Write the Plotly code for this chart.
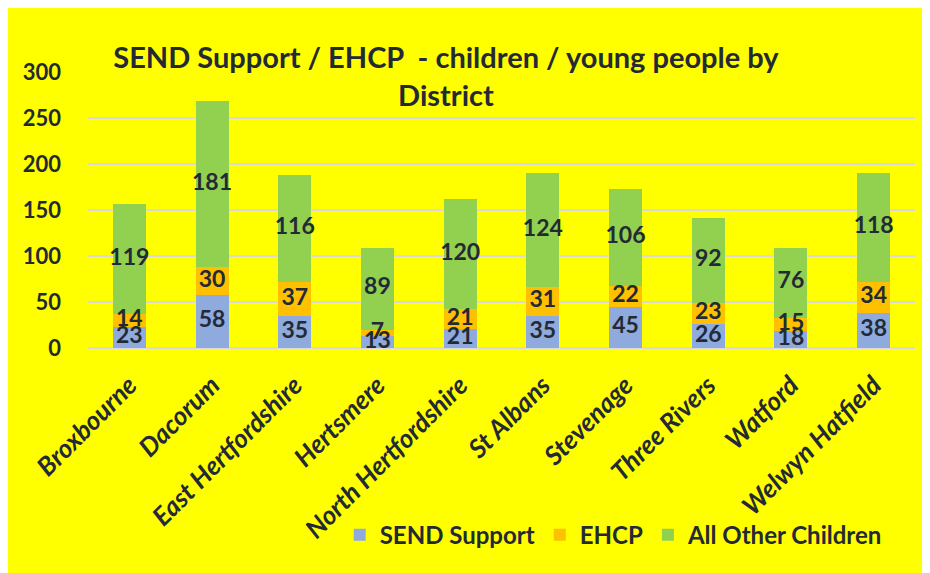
import plotly.graph_objects as go

districts = ["Broxbourne", "Dacorum", "East Hertfordshire", "Hertsmere",
             "North Hertfordshire", "St Albans", "Stevenage", "Three Rivers",
             "Watford", "Welwyn Hatfield"]
send_support = [23, 58, 35, 13, 21, 35, 45, 26, 18, 38]
ehcp = [14, 30, 37, 7, 21, 31, 22, 23, 15, 34]
all_other = [119, 181, 116, 89, 120, 124, 106, 92, 76, 118]

series = [("SEND Support", send_support, "#8faadc"),
          ("EHCP", ehcp, "#ffc000"),
          ("All Other Children", all_other, "#92d050")]

text_color = "#232a36"
font_family = "Lato, Open Sans, sans-serif"

fig = go.Figure()
base = [0] * len(districts)
label_traces = []
for name, values, color in series:
    fig.add_trace(go.Bar(
        x=districts, y=values, name=name,
        marker=dict(color=color, line=dict(width=0)),
        hoverinfo="x+y+name"))
    # labels drawn as a separate layer so the next segment does not cover them
    mids = [b + v / 2 for b, v in zip(base, values)]
    label_traces.append(go.Scatter(
        x=districts, y=mids, mode="text", text=[str(v) for v in values],
        textposition="middle center", showlegend=False, hoverinfo="skip",
        textfont=dict(size=23, color=text_color, family=font_family, weight="bold")))
    base = [b + v for b, v in zip(base, values)]

for tr in label_traces:
    fig.add_trace(tr)

fig.update_layout(
    barmode="stack",
    bargap=0.6,
    width=922, height=565,
    paper_bgcolor="#ffff00",
    plot_bgcolor="#ffff00",
    font=dict(family=font_family, color=text_color),
    margin=dict(l=80, r=15, t=64, b=225),
    title=dict(text="SEND Support / EHCP  - children / young people by<br>District",
               x=0.475, xanchor="center", y=0.893, yanchor="top",
               font=dict(size=29, color=text_color, family=font_family, weight="bold")),
    legend=dict(orientation="h", x=0.967, xanchor="right", y=-0.678, yanchor="middle",
                bgcolor="rgba(0,0,0,0)", traceorder="normal",
                font=dict(size=24, color=text_color, family=font_family, weight="bold"),
                itemwidth=30),
    showlegend=True,
)

fig.update_yaxes(range=[0, 300], dtick=50, showgrid=True, gridcolor="#d9d9d9",
                 gridwidth=2, zeroline=True, zerolinecolor="#d9d9d9", zerolinewidth=2,
                 showline=False, ticks="", ticklabelstandoff=26,
                 tickfont=dict(size=22, color=text_color, family=font_family, weight="bold"))
fig.update_xaxes(tickangle=-45, showline=False, ticks="", ticklabelstandoff=16,
                 tickfont=dict(size=26, color=text_color, family=font_family,
                               weight="bold", style="italic"))

fig.write_html("out.html")
